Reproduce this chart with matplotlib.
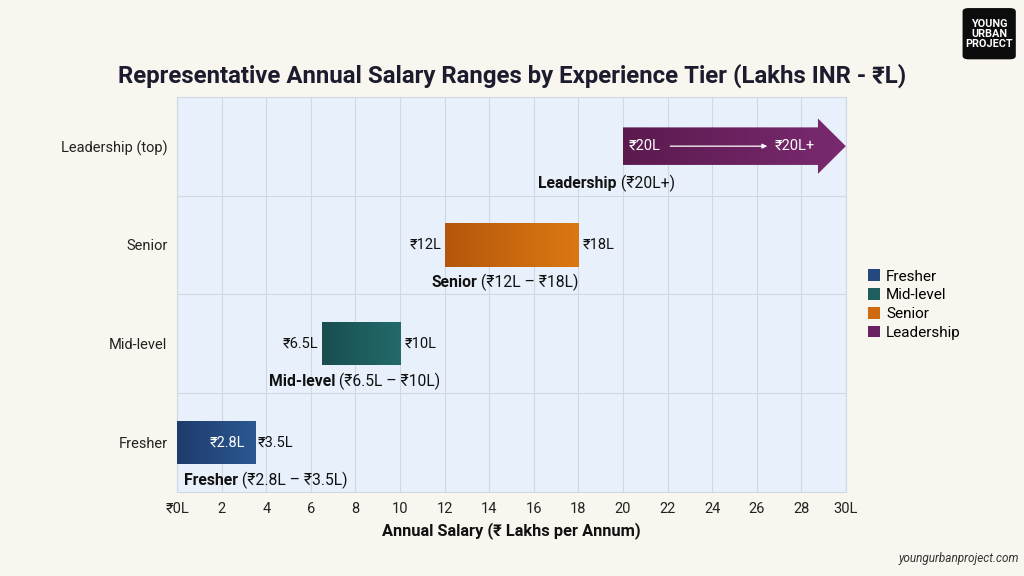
import matplotlib.pyplot as plt
import numpy as np
from matplotlib.patches import Rectangle, Polygon, FancyBboxPatch, Patch
from matplotlib.colors import LinearSegmentedColormap

plt.rcParams['font.family'] = ['Roboto', 'DejaVu Sans']

tiers = ['Fresher', 'Mid-level', 'Senior', 'Leadership (top)']
legend_names = ['Fresher', 'Mid-level', 'Senior', 'Leadership']
low = [2.8, 6.5, 12, 20]
high = [3.5, 10, 18, 20]
bar_start = [0, 6.5, 12, 20]
bar_end = [3.5, 10, 18, 30]
range_text = ['(₹2.8L – ₹3.5L)', '(₹6.5L – ₹10L)', '(₹12L – ₹18L)', '(₹20L+)']
xticks = [0, 2, 4, 6, 8, 10, 12, 14, 16, 18, 20, 22, 24, 26, 28, 30]
xticklabels = ['₹0L'] + [str(v) for v in xticks[1:-1]] + ['30L']

# left/right gradient colours per tier
grad = [('#1f3c6c', '#2b5891'), ('#194d50', '#236b6b'),
        ('#b4570c', '#dc7812'), ('#5b1a4e', '#7a2a70')]
solid = ['#24497f', '#1f5e5f', '#cf6a10', '#6b2262']

fig = plt.figure(figsize=(10.24, 5.76), dpi=100, facecolor='#f9f6ef')
ax = fig.add_axes([0.173, 0.146, 0.653, 0.686])
ax.set_facecolor('#e8f1fb')
ax.set_xlim(0, 30)
ax.set_ylim(-0.5, 3.5)

ax.set_xticks(xticks)
ax.set_xticklabels(xticklabels, fontsize=10.5, color='#222222')
ax.set_yticks(range(len(tiers)))
ax.set_yticklabels(tiers, fontsize=10.5, color='#222222')
ax.tick_params(axis='both', length=0, pad=7)
ax.set_yticks([0.5, 1.5, 2.5], minor=True)
ax.tick_params(axis='y', which='minor', length=0)
ax.grid(axis='x', color='#d0d8e2', linewidth=0.8)
ax.grid(axis='y', which='minor', color='#d0d8e2', linewidth=0.8)
ax.set_axisbelow(True)
for s in ax.spines.values():
    s.set_color('#d0d8e2')
    s.set_linewidth(0.8)

h = 0.44
for i in range(4):
    c0, c1 = grad[i]
    cmap = LinearSegmentedColormap.from_list('g%d' % i, [c0, c1])
    if i < 3:
        shape = Rectangle((bar_start[i], i - h / 2), bar_end[i] - bar_start[i], h,
                          facecolor='none', edgecolor='none')
    else:
        head = bar_end[i] - 1.25
        bh, hh = 0.19, 0.28
        pts = [(bar_start[i], i - bh), (head, i - bh), (head, i - hh), (bar_end[i], i),
               (head, i + hh), (head, i + bh), (bar_start[i], i + bh)]
        shape = Polygon(pts, closed=True, facecolor='none', edgecolor='none')
    ax.add_patch(shape)
    g = np.linspace(0, 1, 256).reshape(1, -1)
    im = ax.imshow(g, cmap=cmap, aspect='auto', zorder=3,
                   extent=[bar_start[i], bar_end[i], i - 0.3, i + 0.3])
    im.set_clip_path(shape)

# value labels
ax.text(low[0] + 0.25, 0, '₹2.8L', ha='right', va='center', color='white', fontsize=10.5, zorder=4)
ax.text(bar_end[0] + 0.1, 0, '₹3.5L', ha='left', va='center', color='#111111', fontsize=10.5, zorder=4)
for i in (1, 2):
    ax.text(low[i] - 0.15, i, '₹%gL' % low[i], ha='right', va='center', color='#111111', fontsize=10.5)
    ax.text(high[i] + 0.2, i, '₹%gL' % high[i], ha='left', va='center', color='#111111', fontsize=10.5)
ax.text(low[3] + 0.25, 3, '₹%gL' % low[3], ha='left', va='center', color='white', fontsize=10.5, zorder=4)
ax.text(26.8, 3, '₹%gL+' % high[3], ha='left', va='center', color='white', fontsize=10.5, zorder=4)
ax.annotate('', xy=(26.6, 3), xytext=(22.0, 3), zorder=4,
            arrowprops=dict(arrowstyle='-|>', color='white', lw=0.9, mutation_scale=7))

# tier captions under each bar
cap_x = [0.3, 4.1, 11.4, 16.2]
for i in range(4):
    t = ax.text(cap_x[i], i - 0.38, tiers[i].replace(' (top)', ''), ha='left', va='center',
                fontsize=11.3, fontweight='bold', color='#111111')
    ax.annotate(' ' + range_text[i], xycoords=t, xy=(1, 0.5), va='center', ha='left',
                fontsize=11.3, color='#111111')

ax.set_xlabel('Annual Salary (₹ Lakhs per Annum)', fontsize=11.8, fontweight='bold',
              color='#111111', labelpad=5)

fig.text(0.5, 0.868, 'Representative Annual Salary Ranges by Experience Tier (Lakhs INR - ₹L)',
         ha='center', va='center', fontsize=17.3, fontweight='bold', color='#1c1c2e')

handles = [Patch(facecolor=c, edgecolor='none') for c in solid]
fig.legend(handles, legend_names, loc='upper left', bbox_to_anchor=(0.834, 0.556),
           frameon=False, fontsize=11, handlelength=0.8, handleheight=0.8,
           handletextpad=0.4, labelspacing=0.3)

# logo box
logo = FancyBboxPatch((0.940, 0.897), 0.052, 0.089, boxstyle='round,pad=0,rounding_size=0.006',
                      transform=fig.transFigure, facecolor='#0c0c0c', edgecolor='none')
fig.patches.append(logo)
fig.text(0.966, 0.941, 'YOUNG\nURBAN\nPROJECT', ha='center', va='center', color='white',
         fontsize=7.8, fontweight='bold', linespacing=0.95)

fig.text(0.995, 0.031, 'youngurbanproject.com', ha='right', va='center', fontsize=8.5,
         style='italic', color='#333333')

fig.savefig('out.png', dpi=100, facecolor=fig.get_facecolor())
